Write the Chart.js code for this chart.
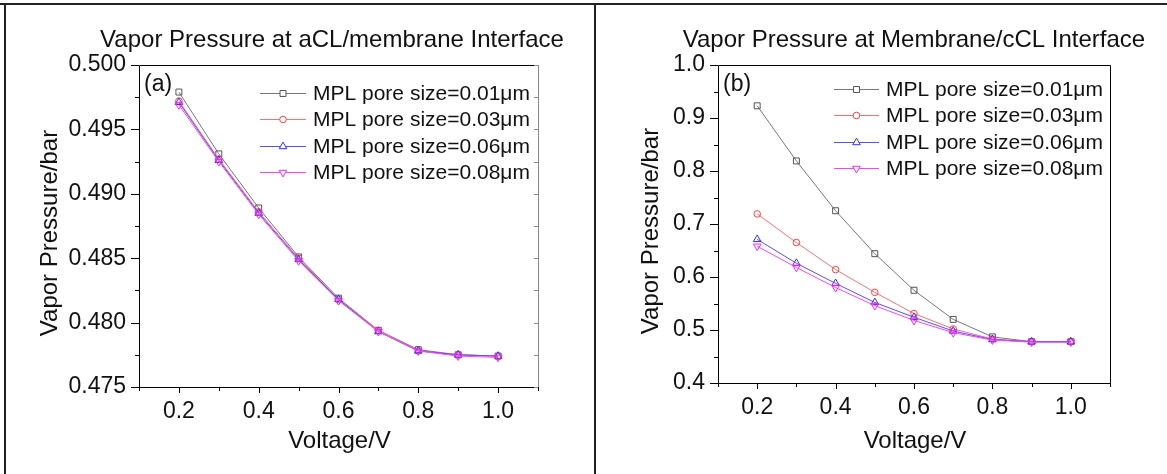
<!DOCTYPE html>
<html>
<head>
<meta charset="utf-8">
<script src="https://cdn.jsdelivr.net/npm/chart.js@4.4.1/dist/chart.umd.min.js"></script>
<style>
  html, body { margin: 0; padding: 0; background: #fff; }
  #wrap { position: relative; width: 1167px; height: 474px; overflow: hidden; background: #fff; }
  .cv { position: absolute; top: 0; }
  .ln { position: absolute; background: #222; }
</style>
</head>
<body>
<div id="wrap">
  <canvas id="cA" class="cv" width="595" height="474" style="left:0px"></canvas>
  <canvas id="cB" class="cv" width="572" height="474" style="left:595px"></canvas>
  <div class="ln" style="left:0;top:3px;width:1167px;height:2px"></div>
  <div class="ln" style="left:4px;top:3px;width:2px;height:471px"></div>
  <div class="ln" style="left:594px;top:3px;width:2px;height:471px"></div>
</div>
<script>
// ---- data ----
const voltage = [0.2, 0.3, 0.4, 0.5, 0.6, 0.7, 0.8, 0.9, 1.0];
const poreLabels = ['MPL pore size=0.01\u03bcm', 'MPL pore size=0.03\u03bcm', 'MPL pore size=0.06\u03bcm', 'MPL pore size=0.08\u03bcm'];
// (a) vapor pressure at aCL/membrane interface (bar)
const aclP001 = [0.4979, 0.4931, 0.4889, 0.4851, 0.4819, 0.4794, 0.4779, 0.4775, 0.4774];
const aclP003 = [0.4972, 0.4927, 0.4886, 0.4850, 0.4818, 0.4794, 0.4778, 0.4775, 0.4774];
const aclP006 = [0.4971, 0.4926, 0.4885, 0.4849, 0.4818, 0.4793, 0.4778, 0.4775, 0.4774];
const aclP008 = [0.4969, 0.4925, 0.4884, 0.4848, 0.4817, 0.4793, 0.4778, 0.4774, 0.4773];
// (b) vapor pressure at membrane/cCL interface (bar)
const ccl001 = [0.923, 0.819, 0.725, 0.644, 0.575, 0.520, 0.487, 0.478, 0.478];
const ccl003 = [0.719, 0.665, 0.614, 0.571, 0.531, 0.502, 0.483, 0.478, 0.478];
const ccl006 = [0.671, 0.626, 0.588, 0.552, 0.524, 0.498, 0.482, 0.478, 0.478];
const ccl008 = [0.658, 0.618, 0.580, 0.546, 0.518, 0.495, 0.481, 0.477, 0.477];
// axis tick settings
const xMin = 0.1, xMax = 1.1, xStep = 0.1;
const aYMin = 0.475, aYMax = 0.500, aYStep = 0.005;
const bYMin = 0.4, bYMax = 1.0, bYStep = 0.1;

const FONT = "'Liberation Sans', Arial, sans-serif";
const styles = [
  { color: '#555555', line: '#777777', pointStyle: 'rect', rotation: 0, radius: 4.2 },
  { color: '#ff4040', line: '#ff7070', pointStyle: 'circle', rotation: 0, radius: 3.3 },
  { color: '#3030ff', line: '#5050ff', pointStyle: 'triangle', rotation: 0, radius: 4.4 },
  { color: '#ff20ff', line: '#ff40ff', pointStyle: 'triangle', rotation: 180, radius: 4.4 }
];

function makeDatasets(series) {
  return series.map((vals, i) => ({
    label: poreLabels[i],
    data: vals.map((v, k) => ({ x: voltage[k], y: v })),
    borderColor: styles[i].line,
    borderWidth: 1,
    pointBorderColor: styles[i].color,
    pointBackgroundColor: 'rgba(255,255,255,0)',
    pointBorderWidth: 1,
    pointStyle: styles[i].pointStyle,
    pointRotation: styles[i].rotation,
    pointRadius: styles[i].radius,
    fill: false,
    tension: 0,
    order: 4 - i
  }));
}

function decorPlugin(cfg) {
  return {
    id: 'decor' + cfg.tag,
    afterDraw(chart) {
      const ctx = chart.ctx;
      const { left, right, top, bottom } = chart.chartArea;
      const xs = chart.scales.x, ys = chart.scales.y;
      const b = Math.round(bottom);
      ctx.save();
      // frame
      ctx.lineWidth = 1;
      ctx.strokeStyle = '#000';
      ctx.beginPath();
      ctx.moveTo(left + 0.5, top + 0.5); ctx.lineTo(left + 0.5, b + 0.5);
      ctx.lineTo(right + 0.5, b + 0.5);
      ctx.moveTo(left + 0.5, top + 0.5); ctx.lineTo(right + 0.5, top + 0.5);
      ctx.stroke();
      ctx.strokeStyle = cfg.rightColor;
      ctx.beginPath();
      ctx.moveTo(right + 0.5, top + 0.5); ctx.lineTo(right + 0.5, b + 0.5);
      ctx.stroke();
      // x ticks
      ctx.strokeStyle = '#000';
      ctx.beginPath();
      xs.ticks.forEach(t => {
        const px = Math.round(xs.getPixelForValue(t.value)) + 0.5;
        const major = Math.round(t.value * 10) % 2 === 0;
        const len = major ? 6 : 4;
        ctx.moveTo(px, b); ctx.lineTo(px, b + len);
      });
      // y ticks, major + minor
      const yt = ys.ticks.map(t => t.value);
      yt.forEach((v, k) => {
        const py = Math.round(ys.getPixelForValue(v)) + 0.5;
        ctx.moveTo(left, py); ctx.lineTo(left - 8, py);
        if (k < yt.length - 1) {
          const pm = Math.round(ys.getPixelForValue((v + yt[k + 1]) / 2)) + 0.5;
          ctx.moveTo(left, pm); ctx.lineTo(left - 4, pm);
        }
      });
      ctx.stroke();
      if (cfg.rightTicks) {
        ctx.strokeStyle = cfg.rightColor;
        ctx.beginPath();
        yt.forEach((v, k) => {
          const py = Math.round(ys.getPixelForValue(v)) + 0.5;
          ctx.moveTo(right, py); ctx.lineTo(right - 4, py);
          if (k < yt.length - 1) {
            const pm = Math.round(ys.getPixelForValue((v + yt[k + 1]) / 2)) + 0.5;
            ctx.moveTo(right, pm); ctx.lineTo(right - 4, pm);
          }
        });
        ctx.stroke();
      }
      // titles
      ctx.fillStyle = '#111';
      ctx.textAlign = 'center';
      ctx.textBaseline = 'middle';
      ctx.font = '24px ' + FONT;
      ctx.fillText(cfg.title, cfg.titleX, 40);
      ctx.fillText('Voltage/V', (left + right) / 2 + 1, 441);
      ctx.save();
      ctx.translate(cfg.yTitleX, cfg.yTitleY);
      ctx.rotate(-Math.PI / 2);
      ctx.fillText('Vapor Pressure/bar', 0, 0);
      ctx.restore();
      // panel tag
      ctx.textAlign = 'left';
      ctx.font = '23px ' + FONT;
      ctx.fillText(cfg.tag, left + 5, 85);
      // legend (from datasets)
      ctx.font = '21px ' + FONT;
      chart.data.datasets.forEach((ds, i) => {
        const yy = Math.round(cfg.legY + i * cfg.legGap);
        ctx.strokeStyle = ds.borderColor;
        ctx.lineWidth = 1;
        ctx.beginPath();
        ctx.moveTo(cfg.legX0, yy + 0.5); ctx.lineTo(cfg.legX1, yy + 0.5);
        ctx.stroke();
        ctx.fillStyle = '#fff';
        ctx.strokeStyle = ds.pointBorderColor;
        Chart.helpers.drawPoint(ctx, {
          pointStyle: ds.pointStyle, rotation: ds.pointRotation, radius: ds.pointRadius, borderWidth: 1
        }, (cfg.legX0 + cfg.legX1) / 2, yy + 0.5);
        ctx.fillStyle = '#111';
        ctx.textAlign = 'left';
        ctx.fillText(ds.label, cfg.legX1 + 7, yy + 1);
      });
      ctx.restore();
    },
  };
}

function makeChart(id, series, yMin, yMax, yStep, dec, cfg) {
  return new Chart(document.getElementById(id), {
    type: 'line',
    data: { datasets: makeDatasets(series) },
    options: {
      responsive: false,
      animation: false,
      devicePixelRatio: 1,
      layout: { padding: { left: 0, right: cfg.padRight, top: 65, bottom: 0 } },
      plugins: { legend: { display: false }, tooltip: { enabled: false }, title: { display: false } },
      scales: {
        x: {
          type: 'linear', min: xMin, max: xMax,
          grid: { display: false, drawTicks: false }, border: { display: false },
          afterFit: s => { s.height = cfg.xHeight; },
          ticks: {
            stepSize: xStep, autoSkip: false, maxRotation: 0, padding: 11,
            color: '#111', font: { family: FONT, size: 23 },
            callback: v => (Math.round(v * 10) % 2 === 0 && v > xMin + 1e-9 && v < xMax - 1e-9) ? Number(v).toFixed(1) : ''
          }
        },
        y: {
          type: 'linear', min: yMin, max: yMax,
          grid: { display: false, drawTicks: false }, border: { display: false },
          afterFit: s => { s.width = cfg.yWidth; },
          ticks: {
            stepSize: yStep, autoSkip: false, padding: 13,
            color: '#111', font: { family: FONT, size: 23 },
            callback: v => Number(v).toFixed(dec)
          }
        }
      }
    },
    plugins: [decorPlugin(cfg)]
  });
}

makeChart('cA', [aclP001, aclP003, aclP006, aclP008], aYMin, aYMax, aYStep, 3, {
  tag: '(a)', title: 'Vapor Pressure at aCL/membrane Interface', titleX: 332,
  yTitleX: 50, yTitleY: 233, rightColor: '#888', rightTicks: true,
  legX0: 260, legX1: 306, legY: 93, legGap: 26.3,
  yWidth: 139, padRight: 57, xHeight: 87
});
makeChart('cB', [ccl001, ccl003, ccl006, ccl008], bYMin, bYMax, bYStep, 1, {
  tag: '(b)', title: 'Vapor Pressure at Membrane/cCL Interface', titleX: 319,
  yTitleX: 56, yTitleY: 231, rightColor: '#000', rightTicks: false,
  legX0: 239, legX1: 284, legY: 89, legGap: 26.3,
  yWidth: 123, padRight: 57, xHeight: 91
});
</script>
</body>
</html>
